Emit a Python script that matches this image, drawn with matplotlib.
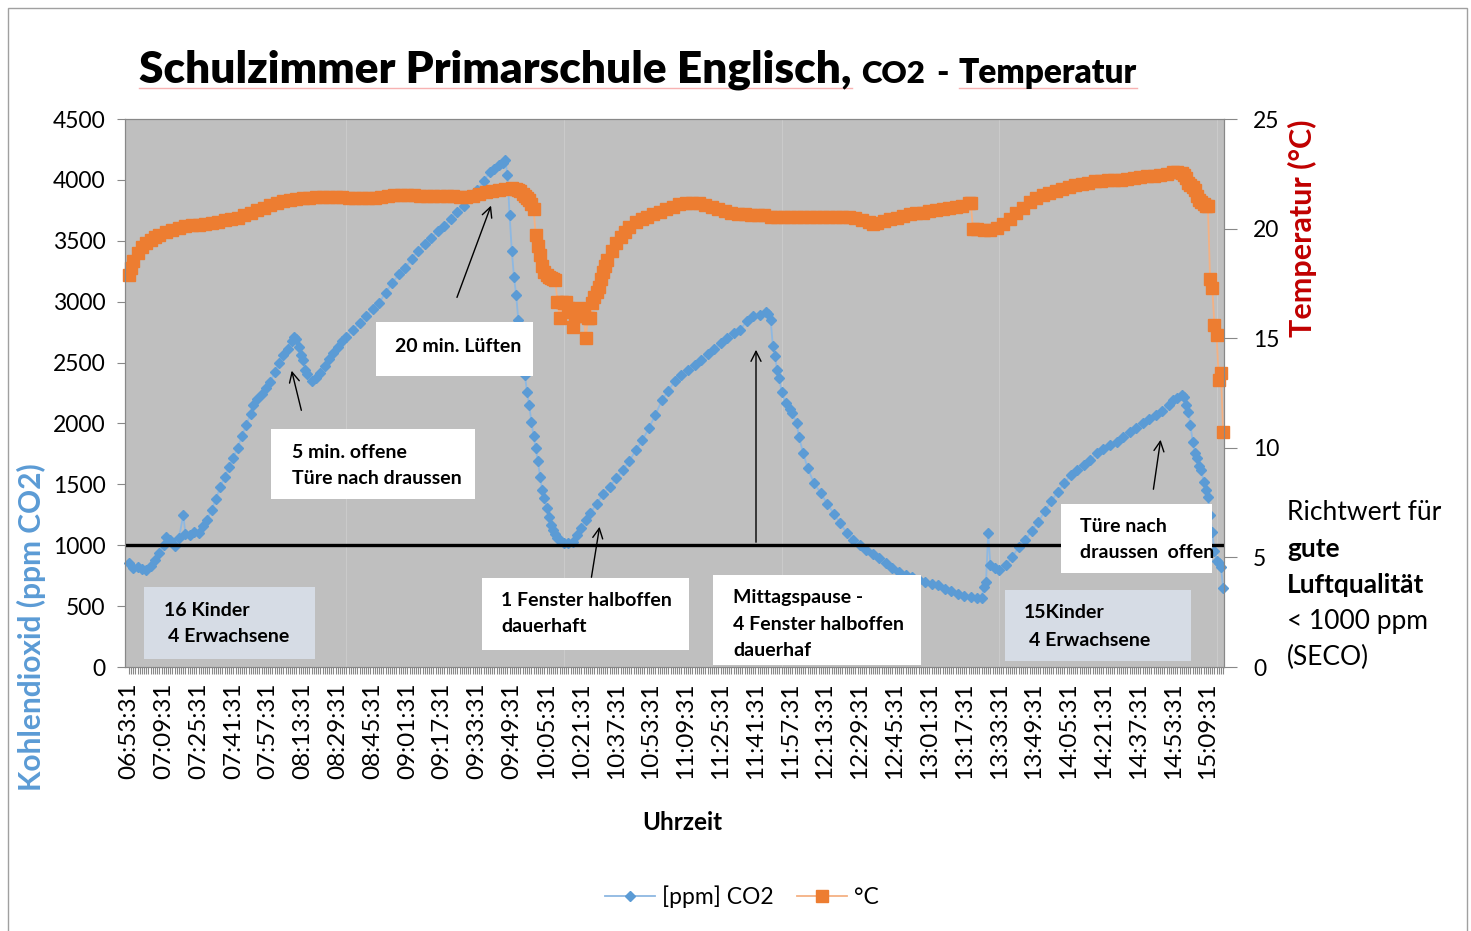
import matplotlib
matplotlib.use('Agg')
import matplotlib.pyplot as plt
from matplotlib.patches import Rectangle
from matplotlib.lines import Line2D

plt.rcParams['font.family'] = ['Lato', 'DejaVu Sans']

W, H = 1471, 931

# Minuten ab 06:53:31 (1 Messwert pro Minute, hier ausgewaehlte Messwerte)
co2_min = [0, 2, 4, 6, 8, 10, 12, 14, 16, 17,
           19, 21, 23, 25, 26, 28, 30, 32, 34, 36,
           38, 40, 42, 44, 46, 48, 50, 52, 54, 56,
           57, 59, 61, 63, 65, 67, 69, 71, 73, 75,
           76, 77, 78, 79, 80, 81, 82, 84, 86, 88,
           90, 92, 94, 96, 98, 100, 103, 106, 109, 112,
           115, 118, 121, 124, 127, 130, 133, 136, 139, 142,
           145, 148, 151, 154, 157, 160, 163, 166, 168, 170,
           172, 173, 174, 175, 176, 177, 178, 179, 180, 181,
           182, 183, 184, 185, 186, 187, 188, 189, 190, 191,
           192, 193, 194, 195, 196, 197, 198, 200, 202, 204,
           206, 208, 210, 212, 215, 218, 221, 224, 227, 230,
           233, 236, 239, 242, 245, 248, 251, 254, 257, 260,
           263, 266, 269, 272, 275, 278, 281, 284, 287, 290,
           293, 294, 295, 296, 297, 298, 299, 300, 302, 304,
           305, 307, 308, 310, 312, 315, 318, 321, 324, 327,
           330, 333, 336, 339, 342, 345, 348, 351, 354, 357,
           360, 363, 366, 369, 372, 375, 378, 381, 384, 387,
           390, 392, 393, 394, 395, 396, 398, 400, 403, 406,
           409, 412, 415, 418, 421, 424, 427, 430, 433, 436,
           439, 442, 445, 448, 451, 454, 457, 460, 463, 466,
           469, 472, 475, 478, 480, 482, 484, 485, 486, 487,
           488, 489, 490, 491, 492, 493, 494, 495, 496, 497,
           498, 499, 500, 501, 502, 503]
co2_ppm = [850, 812, 825, 805, 797, 830, 880, 935, 1000, 1070,
           1040, 990, 1060, 1250, 1090, 1080, 1110, 1100, 1160, 1210,
           1290, 1380, 1480, 1560, 1640, 1720, 1800, 1900, 1990, 2080,
           2150, 2200, 2240, 2290, 2340, 2420, 2500, 2560, 2610, 2680,
           2710, 2690, 2630, 2560, 2520, 2440, 2410, 2345, 2370, 2415,
           2470, 2530, 2580, 2630, 2680, 2710, 2770, 2825, 2880, 2940,
           2990, 3075, 3150, 3225, 3280, 3350, 3420, 3470, 3520, 3580,
           3620, 3680, 3740, 3785, 3850, 3915, 3990, 4065, 4090, 4120,
           4140, 4165, 4040, 3710, 3420, 3205, 3055, 2850, 2700, 2550,
           2400, 2260, 2150, 2015, 1900, 1796, 1690, 1563, 1453, 1385,
           1303, 1234, 1170, 1125, 1090, 1057, 1040, 1016, 1015, 1030,
           1084, 1140, 1210, 1262, 1340, 1420, 1480, 1550, 1615, 1690,
           1780, 1860, 1960, 2070, 2190, 2270, 2350, 2400, 2440, 2480,
           2525, 2570, 2610, 2660, 2700, 2740, 2770, 2840, 2880, 2890,
           2918, 2900, 2849, 2640, 2550, 2440, 2370, 2260, 2165, 2120,
           2083, 2000, 1890, 1755, 1632, 1508, 1430, 1340, 1260, 1180,
           1100, 1043, 1000, 960, 925, 893, 850, 810, 780, 755,
           735, 715, 700, 685, 670, 640, 620, 600, 580, 575,
           565, 570, 660, 700, 1100, 840, 810, 797, 838, 900,
           985, 1040, 1120, 1190, 1280, 1360, 1440, 1510, 1580, 1620,
           1660, 1700, 1755, 1790, 1820, 1850, 1890, 1930, 1960, 2000,
           2040, 2070, 2100, 2150, 2190, 2210, 2234, 2220, 2150, 2096,
           1987, 1850, 1760, 1714, 1650, 1618, 1522, 1450, 1398, 1250,
           1111, 950, 870, 850, 824, 646]

temp_min = [0, 1, 2, 4, 6, 8, 10, 12, 14, 17,
            20, 23, 26, 29, 32, 35, 38, 41, 44, 47,
            50, 53, 56, 59, 62, 65, 68, 71, 74, 77,
            80, 83, 86, 89, 92, 95, 98, 101, 104, 107,
            110, 113, 116, 119, 122, 125, 128, 131, 134, 137,
            140, 143, 146, 149, 152, 155, 158, 161, 164, 167,
            170, 173, 176, 178, 179, 180, 181, 182, 183, 184,
            185, 186, 187, 188, 189, 190, 191, 192, 193, 194,
            195, 196, 197, 198, 199, 200, 201, 202, 203, 204,
            205, 206, 207, 208, 209, 210, 211, 212, 213, 214,
            215, 216, 217, 218, 219, 220, 222, 224, 226, 228,
            230, 233, 236, 238, 241, 244, 247, 250, 253, 256,
            259, 262, 265, 268, 271, 274, 277, 280, 283, 286,
            289, 292, 295, 298, 301, 304, 307, 310, 313, 316,
            319, 322, 325, 328, 331, 334, 337, 340, 342, 344,
            347, 350, 353, 356, 359, 362, 365, 368, 371, 374,
            377, 380, 383, 386, 387, 388, 390, 393, 396, 399,
            402, 405, 408, 411, 414, 417, 420, 423, 426, 429,
            432, 435, 438, 441, 444, 447, 450, 453, 456, 459,
            462, 465, 468, 471, 474, 477, 480, 482, 484, 485,
            486, 487, 488, 489, 490, 491, 492, 493, 494, 495,
            496, 497, 498, 499, 500, 501, 502, 503]
temp_c = [17.9, 18.2, 18.5, 18.9, 19.15, 19.35, 19.5, 19.6, 19.7, 19.85,
          19.95, 20.05, 20.1, 20.15, 20.15, 20.2, 20.25, 20.3, 20.38, 20.45,
          20.5, 20.6, 20.72, 20.85, 20.95, 21.08, 21.18, 21.28, 21.32, 21.36,
          21.38, 21.4, 21.42, 21.45, 21.45, 21.45, 21.42, 21.4, 21.38, 21.4,
          21.38, 21.4, 21.45, 21.5, 21.52, 21.55, 21.55, 21.52, 21.5, 21.5,
          21.5, 21.5, 21.5, 21.5, 21.45, 21.45, 21.5, 21.6, 21.65, 21.72,
          21.76, 21.8, 21.84, 21.8, 21.75, 21.7, 21.6, 21.5, 21.4, 21.3,
          21.1, 20.9, 19.7, 19.2, 18.8, 18.3, 18.0, 17.9, 17.8, 17.75,
          17.7, 17.66, 16.67, 15.91, 16.67, 16.6, 16.67, 16.4, 16.2, 15.52,
          16.0, 16.3, 16.36, 16.2, 16.0, 15.0, 15.9, 15.91, 16.59, 16.9,
          17.1, 17.35, 17.7, 18.0, 18.3, 18.57, 19.0, 19.33, 19.6, 19.85,
          20.09, 20.3, 20.45, 20.54, 20.65, 20.77, 20.88, 21.0, 21.1, 21.15,
          21.18, 21.15, 21.08, 21.0, 20.9, 20.8, 20.72, 20.68, 20.65, 20.62,
          20.6, 20.6, 20.55, 20.55, 20.55, 20.55, 20.55, 20.55, 20.55, 20.55,
          20.55, 20.55, 20.55, 20.55, 20.55, 20.5, 20.4, 20.3, 20.22, 20.25,
          20.35, 20.45, 20.5, 20.58, 20.65, 20.7, 20.72, 20.8, 20.85, 20.88,
          20.95, 21.0, 21.05, 21.15, 21.15, 20.0, 20.0, 19.95, 19.95, 20.05,
          20.2, 20.45, 20.7, 20.95, 21.2, 21.38, 21.52, 21.62, 21.72, 21.82,
          21.92, 21.98, 22.05, 22.1, 22.15, 22.18, 22.2, 22.22, 22.22, 22.28,
          22.32, 22.36, 22.4, 22.42, 22.45, 22.5, 22.58, 22.6, 22.55, 22.45,
          22.3, 22.1, 22.0, 21.9, 21.75, 21.5, 21.3, 21.2, 21.1, 21.05,
          21.05, 17.7, 17.3, 15.6, 15.15, 13.1, 13.4, 10.7]

grenzwert = 1000

zeit_ticks = list(range(0, 497, 16))
zeit_labels = ['06:53:31', '07:09:31', '07:25:31', '07:41:31', '07:57:31', '08:13:31',
               '08:29:31', '08:45:31', '09:01:31', '09:17:31', '09:33:31', '09:49:31',
               '10:05:31', '10:21:31', '10:37:31', '10:53:31', '11:09:31', '11:25:31',
               '11:41:31', '11:57:31', '12:13:31', '12:29:31', '12:45:31', '13:01:31',
               '13:17:31', '13:33:31', '13:49:31', '14:05:31', '14:21:31', '14:37:31',
               '14:53:31', '15:09:31']

blau = '#5B9BD5'
orange = '#ED7D31'
grau = '#888888'


def fx(px):
    return px / W


def fy(py):
    return 1 - py / H


fig = plt.figure(figsize=(W / 100, H / 100), dpi=100)
ax = fig.add_axes([fx(125), fy(667), (1224 - 125) / W, (667 - 119) / H])
ax.set_facecolor('#BFBFBF')
ax2 = ax.twinx()

# Hilfslinien alle 100 Messwerte
for xv in range(100, 501, 100):
    ax.axvline(xv, color='#CACACA', lw=0.8, zorder=0.5)

ln1, = ax.plot(co2_min, co2_ppm, color='#8DB8E2', lw=1.3, marker='D', ms=5.2,
               mfc=blau, mec=blau, clip_on=False, zorder=2, label='[ppm] CO2')
ax.axhline(grenzwert, color='black', lw=2.4, zorder=3)
ln2, = ax2.plot(temp_min, temp_c, color='#F4B183', lw=1.3, marker='s', ms=8.3,
                mfc=orange, mec=orange, clip_on=False, zorder=2, label='°C')

ax.set_xlim(-1.8, 503.4)
ax.set_ylim(0, 4500)
ax.set_yticks(range(0, 4501, 500))
ax2.set_ylim(0, 25)
ax2.set_yticks(range(0, 26, 5))
ax.set_xticks(zeit_ticks)
ax.set_xticklabels(zeit_labels, rotation=90)
ax.set_xticks(range(0, 504), minor=True)

ax.tick_params(axis='x', which='both', length=5, color=grau, width=0.8, labelsize=17.5, pad=6)
ax.tick_params(axis='y', length=6, color=grau, labelsize=16.5, pad=8)
ax2.tick_params(axis='y', length=9, color=grau, labelsize=16.5, pad=12)
for a in (ax, ax2):
    for s in a.spines.values():
        s.set_color(grau)

# Beschriftungen
fig.text(fx(31), fy(627), 'Kohlendioxid (ppm CO2)', rotation=90, color=blau,
         fontsize=21.5, fontweight='bold', ha='center', va='center')
fig.text(fx(1302), fy(228), 'Temperatur (°C)', rotation=90, color='#C00000',
         fontsize=22, fontweight='bold', ha='center', va='center')
fig.text(fx(682), fy(822), 'Uhrzeit', fontsize=17.5, fontweight='bold', ha='center', va='center')

# Titel in Teilen (verschiedene Schriftgroessen)
r = fig.canvas.get_renderer()
teile = [('Schulzimmer Primarschule Englisch,', 31.8, 10),
         ('CO2', 22.5, 11),
         ('-', 24, 10),
         ('Temperatur', 24, 0)]
x = 139
for txt, size, gap in teile:
    t = fig.text(fx(x), fy(83), txt, fontsize=size, fontweight='heavy', va='baseline')
    bb = t.get_window_extent(renderer=r)
    if txt == 'Schulzimmer Primarschule Englisch,' or txt == 'Temperatur':
        fig.add_artist(Line2D([fx(x), fx(x + bb.width)], [fy(88), fy(88)],
                              transform=fig.transFigure, color='#F7B2B2', lw=1))
    x = x + bb.width + gap

# Textfelder
felder = [(376, 322, 533, 376, 'white'),
          (271, 429, 475, 499, 'white'),
          (144, 587, 315, 659, '#D6DCE5'),
          (482, 578, 689, 650, 'white'),
          (713, 575, 921, 665, 'white'),
          (1061, 504, 1212, 573, 'white'),
          (1005, 590, 1191, 661, '#D6DCE5')]
for x0, y0, x1, y1, fc in felder:
    fig.add_artist(Rectangle((fx(x0), fy(y1)), (x1 - x0) / W, (y1 - y0) / H,
                             transform=fig.transFigure, facecolor=fc, edgecolor='none', zorder=1))

notizen = [(395, 346, '20 min. Lüften'),
           (292, 452, '5 min. offene'),
           (292, 479, 'Türe nach draussen'),
           (164, 610, '16 Kinder'),
           (168, 636, '4 Erwachsene'),
           (501, 601, '1 Fenster halboffen'),
           (501, 627, 'dauerhaft'),
           (733, 598, 'Mittagspause -'),
           (733, 624, '4 Fenster halboffen'),
           (733, 650, 'dauerhaf'),
           (1080, 526, 'Türe nach'),
           (1080, 552, 'draussen  offen'),
           (1024, 613, '15Kinder'),
           (1029, 640, '4 Erwachsene')]
for xp, yp, txt in notizen:
    fig.text(fx(xp), fy(yp), txt, fontsize=14, fontweight='bold', va='center', zorder=4)

# Pfeile
pfeile = [((456, 300), (492, 203)),
          ((302, 413), (291, 368)),
          ((591, 580), (600, 524)),
          ((756, 545), (756, 347)),
          ((1153, 492), (1161, 437))]
for (xa, ya), (xb, yb) in pfeile:
    ax2.annotate('', xy=(xb, H - yb), xycoords='figure pixels',
                 xytext=(xa, H - ya), textcoords='figure pixels',
                 arrowprops=dict(arrowstyle='->', color='black', lw=1, mutation_scale=18),
                 annotation_clip=False, zorder=5)

# Richtwert-Text rechts
rechts = [(513, 'Richtwert für', 'normal'),
          (549, 'gute', 'bold'),
          (585, 'Luftqualität', 'bold'),
          (621, '< 1000 ppm', 'normal'),
          (657, '(SECO)', 'normal')]
for yp, txt, fw in rechts:
    fig.text(fx(1287), fy(yp), txt, fontsize=19, fontweight=fw, va='center')

ax.legend(handles=[ln1, ln2], loc='center', bbox_to_anchor=(fx(742), fy(897)),
          bbox_transform=fig.transFigure, ncol=2, frameon=False, fontsize=16.5,
          handlelength=2.2, columnspacing=1.0, handletextpad=0.3)

# Rahmen um das Diagramm
fig.add_artist(Rectangle((fx(8), -0.01), (1467 - 8) / W, fy(8) + 0.01,
                         transform=fig.transFigure, fill=False, edgecolor='#A0A0A0', lw=1))

fig.savefig('out.png', dpi=100)
